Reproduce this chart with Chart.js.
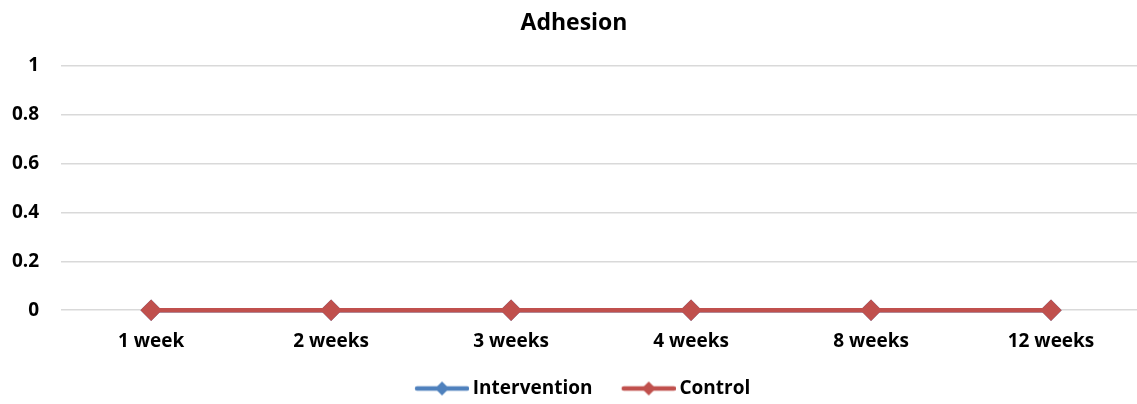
<!DOCTYPE html>
<html><head><meta charset="utf-8">
<script src="https://cdn.jsdelivr.net/npm/chart.js@4"></script>
<style>html,body{margin:0;padding:0;background:#fff;overflow:hidden;}canvas{display:block;}</style>
</head><body>
<canvas id="c" width="1153" height="404"></canvas>
<script>
const categories = ["1 week","2 weeks","3 weeks","4 weeks","8 weeks","12 weeks"];
const interventionValues = [0,0,0,0,0,0];
const controlValues = [0,0,0,0,0,0];
const yTicks = [0,0.2,0.4,0.6,0.8,1];

const FONT = "'Open Sans', 'Liberation Sans', sans-serif";
function legendIcon(color){
  const c = document.createElement('canvas');
  c.width = 83; c.height = 16;
  const x = c.getContext('2d');
  x.strokeStyle = color; x.lineWidth = 4.5; x.lineCap='round';
  x.beginPath(); x.moveTo(31,8); x.lineTo(81,8); x.stroke();
  x.fillStyle = color;
  x.beginPath(); x.moveTo(56,1); x.lineTo(63,8); x.lineTo(56,15); x.lineTo(49,8); x.closePath(); x.fill();
  return c;
}
const shiftBlocks = {
  id:'shiftBlocks',
  afterLayout(chart){
    const boxCenter = (chart.titleBlock.left + chart.titleBlock.right) / 2;
    const dT = 574 - boxCenter;
    chart.titleBlock.left += dT; chart.titleBlock.right += dT;
    const lc = (chart.legend.left + chart.legend.right) / 2;
    const dL = 571 - lc;
    chart.legend.left += dL; chart.legend.right += dL;
  }
};
new Chart(document.getElementById('c'), {
  type: 'line',
  data: {
    labels: categories,
    datasets: [
      {label:'Intervention', data: interventionValues, order:1, clip:false, borderColor:'#4f81bd', backgroundColor:'#4f81bd', borderWidth:4.5, pointStyle:'rectRot', pointRadius:7.5, pointHoverRadius:7.5},
      {label:'Control', data: controlValues, order:0, clip:false, borderColor:'#c0504d', backgroundColor:'#c0504d', borderWidth:4.5, pointStyle:'rectRot', pointRadius:7.5, pointHoverRadius:7.5}
    ]
  },
  plugins:[shiftBlocks],
  options: {
    responsive:false, animation:false,
    layout:{padding:{left:-10,right:0,top:8,bottom:-4}},
    plugins:{
      title:{display:true, text:'Adhesion', color:'#000', font:{family:FONT, size:23, weight:'bold'}, padding:{top:2,bottom:28}},
      legend:{position:'bottom', labels:{
        color:'#000', font:{family:FONT, size:19, weight:'bold'}, usePointStyle:true, pointStyleWidth:71.5, boxHeight:16, padding:6,
        generateLabels:(chart)=>chart.data.datasets.map((d,i)=>({text:d.label, pointStyle:legendIcon(d.borderColor), fillStyle:d.borderColor, strokeStyle:d.borderColor, lineWidth:0, datasetIndex:i, fontColor:'#000'}))
      }},
      tooltip:{enabled:false}
    },
    scales:{
      x:{offset:true, grid:{display:false, drawTicks:false}, border:{display:false},
         ticks:{color:'#000', font:{family:FONT, size:19, weight:'bold'}, padding:20}},
      y:{min:0, max:1, afterBuildTicks:(ax)=>{ax.ticks = yTicks.map(v=>({value:v}));},
         grid:{color:'#d9d9d9', lineWidth:1.5, drawTicks:false}, border:{display:false},
         ticks:{color:'#000', font:{family:FONT, size:19, weight:'bold'}, padding:22, callback:(v)=>String(v)}}
    }
  }
});
</script>
</body></html>
